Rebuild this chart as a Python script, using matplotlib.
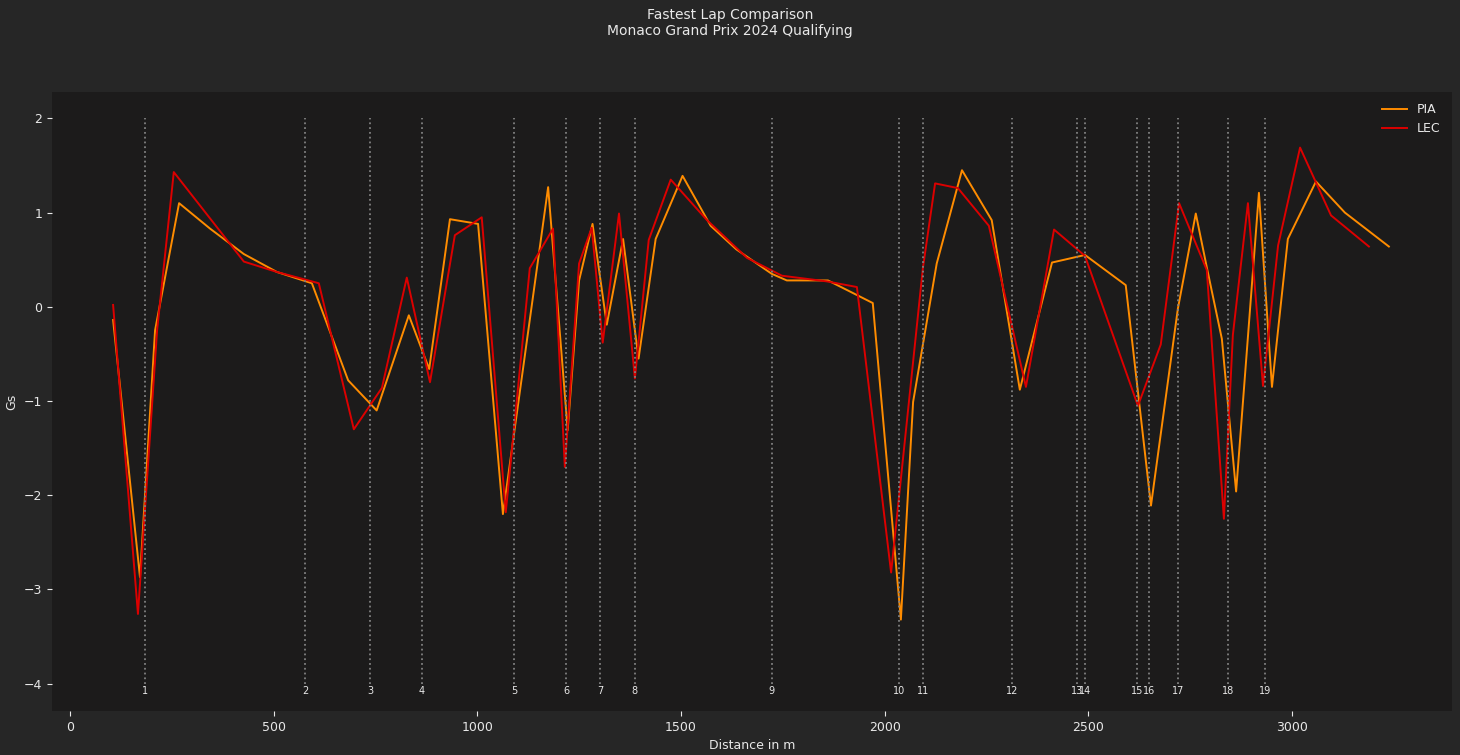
import matplotlib
matplotlib.use("Agg")
import matplotlib.pyplot as plt

# Fastest lap lateral/long. G comparison, Monaco 2024 Q
pia_dist = [106, 172, 209, 268, 344, 427, 508, 594, 683, 753, 832, 882, 933, 1002, 1063,
            1174, 1222, 1250, 1283, 1318, 1358, 1396, 1438, 1504, 1573, 1636, 1723, 1760,
            1861, 1971, 2040, 2070, 2128, 2190, 2263, 2332, 2411, 2492, 2592, 2654, 2720,
            2764, 2791, 2828, 2863, 2919, 2951, 2990, 3059, 3130, 3238]
pia_g = [-0.14, -2.87, -0.25, 1.10, 0.83, 0.56, 0.37, 0.25, -0.78, -1.10, -0.09, -0.66, 0.93,
         0.88, -2.20, 1.27, -1.31, 0.28, 0.88, -0.19, 0.72, -0.55, 0.72, 1.39, 0.86, 0.61,
         0.35, 0.28, 0.28, 0.04, -3.32, -1.01, 0.46, 1.45, 0.92, -0.88, 0.47, 0.55, 0.23,
         -2.11, -0.02, 0.99, 0.42, -0.34, -1.96, 1.21, -0.85, 0.72, 1.33, 1.00, 0.64]

lec_dist = [106, 167, 214, 255, 427, 508, 611, 697, 766, 827, 884, 945, 1011, 1070, 1129,
            1186, 1215, 1250, 1281, 1308, 1348, 1387, 1421, 1475, 1564, 1662, 1748, 1858,
            1932, 2016, 2094, 2124, 2180, 2256, 2347, 2416, 2492, 2622, 2678, 2723, 2791,
            2833, 2855, 2892, 2929, 2966, 3020, 3096, 3189]
lec_g = [0.02, -3.26, -0.25, 1.43, 0.48, 0.37, 0.25, -1.30, -0.86, 0.31, -0.80, 0.76, 0.95,
         -2.18, 0.41, 0.83, -1.70, 0.46, 0.84, -0.38, 0.99, -0.76, 0.71, 1.35, 0.92, 0.52,
         0.33, 0.27, 0.21, -2.82, 0.41, 1.31, 1.26, 0.86, -0.85, 0.82, 0.54, -1.05, -0.40,
         1.10, 0.39, -2.25, -0.30, 1.10, -0.84, 0.65, 1.69, 0.97, 0.64]

corner_nums = [str(i) for i in range(1, 20)]
corner_dist = [184, 577, 737, 864, 1090, 1218, 1301, 1387, 1723, 2035, 2094, 2313,
               2472, 2492, 2620, 2649, 2720, 2843, 2934]

FIG_BG = "#262626"
AX_BG = "#1c1b1b"
TXT = "#e8e8e8"

fig = plt.figure(figsize=(14.6, 7.55), dpi=100, facecolor=FIG_BG)
ax = fig.add_axes([52 / 1460, 44 / 755, 1400 / 1460, 619 / 755], facecolor=AX_BG)

ax.plot(pia_dist, pia_g, color="#ff8c00", lw=1.4, label="PIA")
ax.plot(lec_dist, lec_g, color="#dc0000", lw=1.4, label="LEC")

ax.vlines(corner_dist, ymin=-4, ymax=2, colors="grey", linestyles="dotted", lw=1.3)
for d, n in zip(corner_dist, corner_nums):
    ax.text(d, -4.08, n, ha="center", va="center", fontsize=7, color=TXT)

ax.set_xlim(-44, 3393)
ax.set_ylim(-4.29, 2.28)
ax.set_xlabel("Distance in m", color=TXT, fontsize=9)
ax.set_ylabel("Gs", color=TXT, fontsize=9)
ax.tick_params(colors=TXT, labelsize=9)
for s in ax.spines.values():
    s.set_visible(False)

leg = ax.legend(loc="upper right", fontsize=9, frameon=True, facecolor=AX_BG, edgecolor=AX_BG)
for t in leg.get_texts():
    t.set_color(TXT)

fig.text(0.5, 0.97, "Fastest Lap Comparison\nMonaco Grand Prix 2024 Qualifying",
         ha="center", va="center", fontsize=10, color=TXT)

fig.savefig("out.png", dpi=100, facecolor=FIG_BG)
